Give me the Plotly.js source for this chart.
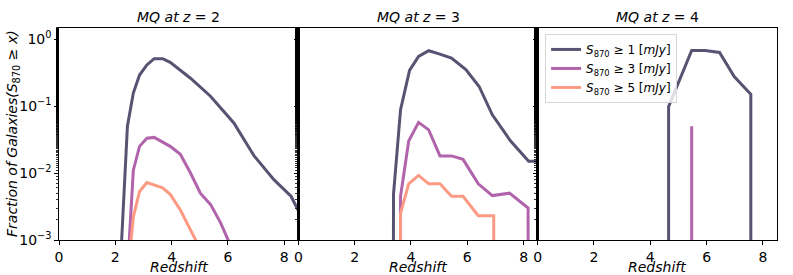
<!DOCTYPE html>
<html>
<head>
<meta charset="utf-8">
<script src="https://cdn.plot.ly/plotly-3.0.1.min.js"></script>
<style>html,body{margin:0;padding:0;background:#fff;}#chart{width:793px;height:275px;}</style>
</head>
<body>
<div id="chart"></div>
<script>
// Panel titles and legend labels
const panelTitles = ["<i>MQ at z</i> = 2", "<i>MQ at z</i> = 3", "<i>MQ at z</i> = 4"];
const seriesNames = [
  "<i>S</i><sub>870</sub> ≥ 1 [<i>mJy</i>]",
  "<i>S</i><sub>870</sub> ≥ 3 [<i>mJy</i>]",
  "<i>S</i><sub>870</sub> ≥ 5 [<i>mJy</i>]"
];
const xTitle = "<i>Redshift</i>";
const yTitle = "<i>Fraction of Galaxies(S</i><sub>870</sub> ≥ <i>x)</i>";
const seriesColors = ["#575372", "#b163ab", "#fc9a84"];
const FLOOR = 1e-6; // values below the plotted range (zero fraction)

// MQ at z=2
const z2_s1_x = [2.22, 2.43, 2.64, 2.86, 3.12, 3.38, 3.68, 3.95, 4.67, 5.38, 6.21, 6.93, 7.64, 8.24, 8.51];
const z2_s1_y = [0.0009, 0.05, 0.156, 0.29, 0.41, 0.51, 0.51, 0.45, 0.26, 0.14, 0.056, 0.018, 0.0079, 0.0045, 0.0027];
const z2_s3_x = [2.49, 2.64, 2.86, 3.12, 3.38, 3.95, 4.31, 4.67, 5.02, 5.38, 5.74, 6.03];
const z2_s3_y = [0.0009, 0.011, 0.025, 0.033, 0.034, 0.025, 0.019, 0.010, 0.005, 0.0034, 0.0018, 0.00095];
const z2_s5_x = [2.55, 2.64, 2.86, 3.12, 3.68, 3.95, 4.31, 4.88];
const z2_s5_y = [0.0009, 0.0022, 0.0053, 0.0072, 0.006, 0.0048, 0.0028, 0.00095];

// MQ at z=3
const z3_s1_x = [3.37, 3.38, 3.63, 3.95, 4.27, 4.63, 5.00, 5.44, 5.95, 6.42, 6.89, 7.54, 8.18, 8.5];
const z3_s1_y = [FLOOR, 0.0048, 0.088, 0.34, 0.55, 0.67, 0.60, 0.52, 0.35, 0.196, 0.074, 0.030, 0.015, 0.015];
const z3_s3_x = [3.63, 3.63, 3.92, 4.27, 4.63, 5.03, 5.44, 5.85, 6.39, 6.89, 7.50, 8.16, 8.17];
const z3_s3_y = [FLOOR, 0.0045, 0.030, 0.057, 0.044, 0.018, 0.018, 0.016, 0.0069, 0.0046, 0.005, 0.003, FLOOR];
const z3_s5_x = [3.63, 3.63, 3.92, 4.27, 4.63, 5.03, 5.44, 5.85, 6.39, 6.94, 6.94];
const z3_s5_y = [FLOOR, 0.0025, 0.0069, 0.0092, 0.0069, 0.0069, 0.0045, 0.0045, 0.0023, 0.0023, FLOOR];

// MQ at z=4
const z4_s1_x = [4.65, 4.65, 5.47, 5.95, 6.46, 6.98, 7.57, 7.57];
const z4_s1_y = [FLOOR, 0.098, 0.676, 0.676, 0.63, 0.276, 0.15, FLOOR];
const z4_s3_x = [5.47, 5.47];
const z4_s3_y = [FLOOR, 0.05];
const z4_s5_x = [null];
const z4_s5_y = [null];

const xTicks = [0, 2, 4, 6, 8];
const yTickVals = [0.001, 0.01, 0.1, 1];
const yTickText = ["10<sup>−3</sup>", "10<sup>−2</sup>", "10<sup>−1</sup>", "10<sup>0</sup>"];

const panels = [
  [[z2_s1_x, z2_s1_y], [z2_s3_x, z2_s3_y], [z2_s5_x, z2_s5_y]],
  [[z3_s1_x, z3_s1_y], [z3_s3_x, z3_s3_y], [z3_s5_x, z3_s5_y]],
  [[z4_s1_x, z4_s1_y], [z4_s3_x, z4_s3_y], [z4_s5_x, z4_s5_y]]
];

const FONT = "DejaVu Sans, sans-serif";
const FS = 14;
const traces = [];
panels.forEach((panel, p) => {
  panel.forEach((s, k) => {
    traces.push({
      x: s[0], y: s[1], type: "scatter", mode: "lines",
      name: seriesNames[k],
      line: {color: seriesColors[k], width: 3},
      xaxis: p === 0 ? "x" : "x" + (p + 1),
      yaxis: p === 0 ? "y" : "y" + (p + 1),
      showlegend: p === 2,
      legendrank: k + 1
    });
  });
});

const layout = {
  width: 793, height: 275,
  margin: {l: 59, r: 16, t: 28, b: 35, pad: 0},
  paper_bgcolor: "#fff", plot_bgcolor: "#fff",
  font: {family: FONT, size: FS, color: "#000"},
  showlegend: true,
  legend: {
    x: 0.677, y: 0.972, xanchor: "left", yanchor: "top",
    bgcolor: "rgba(255,255,255,0.8)", bordercolor: "#d6d6d6", borderwidth: 1,
    font: {family: FONT, size: 12, color: "#000"},
    tracegroupgap: 0, itemwidth: 30
  },
  annotations: []
};

const doms = [[0, 1/3], [1/3, 2/3], [2/3, 1]];
for (let p = 0; p < 3; p++) {
  const sx = p === 0 ? "" : String(p + 1);
  layout["xaxis" + sx] = {
    domain: doms[p], range: [0, 8.5], anchor: "y" + sx,
    tickvals: xTicks, ticks: "outside", ticklen: 3.5, tickwidth: 1, tickcolor: "#000",
    showline: true, linecolor: "#000", linewidth: 1.2, mirror: true,
    showgrid: false, zeroline: false,
    tickfont: {family: FONT, size: FS}
  };
  layout["yaxis" + sx] = {
    type: "log", range: [-3, 0.165], anchor: "x" + sx,
    tickvals: yTickVals, ticktext: p === 0 ? yTickText : ["", "", "", ""],
    ticks: "outside", ticklen: 3.5, tickwidth: 1, tickcolor: "#000",
    minor: {ticks: "outside", ticklen: 2, tickwidth: 0.8, tickcolor: "#000", showgrid: false},
    showline: true, linecolor: "#000", linewidth: 1.2, mirror: true,
    showgrid: false, zeroline: false,
    tickfont: {family: FONT, size: FS}
  };
  layout.annotations.push({
    text: panelTitles[p], xref: "x" + sx + " domain", yref: "paper",
    x: 0.5, y: 1, yshift: 1, xanchor: "center", yanchor: "bottom", showarrow: false,
    font: {family: FONT, size: FS}
  });
  layout.annotations.push({
    text: xTitle, xref: "x" + sx + " domain", yref: "paper",
    x: 0.5, y: 0, yshift: -27, xanchor: "center", yanchor: "middle", showarrow: false,
    borderpad: 0, font: {family: FONT, size: FS}
  });
}
layout.annotations.push({
  text: yTitle, xref: "paper", yref: "paper", x: 0, y: 0.5, xshift: -46,
  xanchor: "center", yanchor: "middle", textangle: -90, showarrow: false,
  font: {family: FONT, size: FS}
});

Plotly.newPlot("chart", traces, layout, {staticPlot: true, displayModeBar: false});
</script>
</body>
</html>
